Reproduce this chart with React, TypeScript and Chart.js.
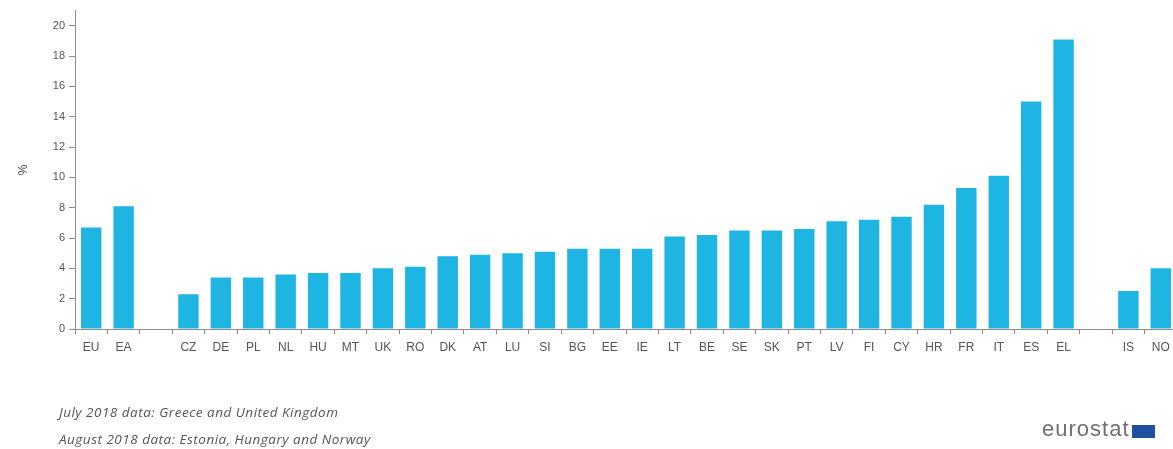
import React, { useEffect, useRef } from "react";
import { Chart, registerables } from "chart.js";

Chart.register(...registerables);

const categories: string[] = [
  "EU", "EA", "",
  "CZ", "DE", "PL", "NL", "HU", "MT", "UK", "RO", "DK", "AT",
  "LU", "SI", "BG", "EE", "IE", "LT", "BE", "SE", "SK", "PT",
  "LV", "FI", "CY", "HR", "FR", "IT", "ES", "EL",
  "", "IS", "NO",
];

const unemploymentRate: (number | null)[] = [
  6.7, 8.1, null,
  2.3, 3.4, 3.4, 3.6, 3.7, 3.7, 4.0, 4.1, 4.8, 4.9,
  5.0, 5.1, 5.3, 5.3, 5.3, 6.1, 6.2, 6.5, 6.5, 6.6,
  7.1, 7.2, 7.4, 8.2, 9.3, 10.1, 15.0, 19.1,
  null, 2.5, 4.0,
];

const yAxisTitle = "%";
const footnotes: string[] = [
  "July 2018 data: Greece and United Kingdom",
  "August 2018 data: Estonia, Hungary and Norway",
];
const logoText = "eurostat";

export default function App() {
  const canvasRef = useRef<HTMLCanvasElement | null>(null);

  useEffect(() => {
    const canvas = canvasRef.current;
    if (!canvas) return;
    const chart = new Chart(canvas, {
      type: "bar",
      data: {
        labels: categories,
        datasets: [
          {
            data: unemploymentRate,
            backgroundColor: "#1eb5e2",
            borderWidth: 0,
            barPercentage: 0.63,
            categoryPercentage: 1,
          },
        ],
      },
      options: {
        responsive: false,
        animation: false,
        layout: { padding: { top: 10, right: 3, bottom: 0, left: 0 } },
        plugins: {
          legend: { display: false },
          tooltip: { enabled: false },
        },
        scales: {
          x: {
            grid: {
              drawOnChartArea: false,
              drawTicks: true,
              tickLength: 5,
              color: "#a8806f",
              offset: true,
            },
            border: { color: "#8c8c8c", width: 1 },
            ticks: {
              color: "#555555",
              font: { size: 12, family: "Liberation Sans" },
              padding: 6,
              maxRotation: 0,
              autoSkip: false,
            },
            afterFit: (s: any) => {
              s.height = 120;
            },
          },
          y: {
            min: 0,
            max: 21,
            afterBuildTicks: (s: any) => {
              s.ticks = s.ticks.filter((t: any) => t.value <= 20);
            },
            ticks: {
              stepSize: 2,
              color: "#555555",
              font: { size: 11, family: "Liberation Sans" },
              padding: 4,
            },
            grid: {
              drawOnChartArea: false,
              drawTicks: true,
              tickLength: 6,
              color: "#8c8c8c",
            },
            border: { color: "#8c8c8c", width: 1 },
            title: {
              display: true,
              text: yAxisTitle,
              color: "#444444",
              font: { size: 12, family: "Liberation Sans" },
              padding: { top: 16, bottom: 0 },
            },
            afterFit: (s: any) => {
              s.width = 75;
            },
          },
        },
      },
    });
    return () => chart.destroy();
  }, []);

  return (
    <div
      style={{
        position: "fixed",
        left: 0,
        top: 0,
        width: 1173,
        height: 449,
        overflow: "hidden",
        background: "#ffffff",
      }}
    >
      <canvas
        ref={canvasRef}
        width={1180}
        height={449}
        style={{ position: "absolute", left: 0, top: 0, width: 1180, height: 449 }}
      />
      {footnotes.map((t, i) => (
        <div
          key={i}
          style={{
            position: "absolute",
            left: 59,
            top: 404 + i * 27,
            fontFamily: "'Open Sans', sans-serif",
            fontStyle: "italic",
            fontSize: 13.5,
            lineHeight: "17px",
            letterSpacing: "0.5px",
            color: "#555555",
            whiteSpace: "nowrap",
          }}
        >
          {t}
        </div>
      ))}
      <div
        style={{
          position: "absolute",
          left: 1042,
          top: 418,
          fontFamily: "'Liberation Sans', sans-serif",
          fontSize: 22,
          lineHeight: "22px",
          letterSpacing: "1px",
          color: "#707070",
          whiteSpace: "nowrap",
        }}
      >
        {logoText}
      </div>
      <div
        style={{
          position: "absolute",
          left: 1132,
          top: 425,
          width: 23,
          height: 13,
          background: "#1d4f9f",
        }}
      />
    </div>
  );
}
